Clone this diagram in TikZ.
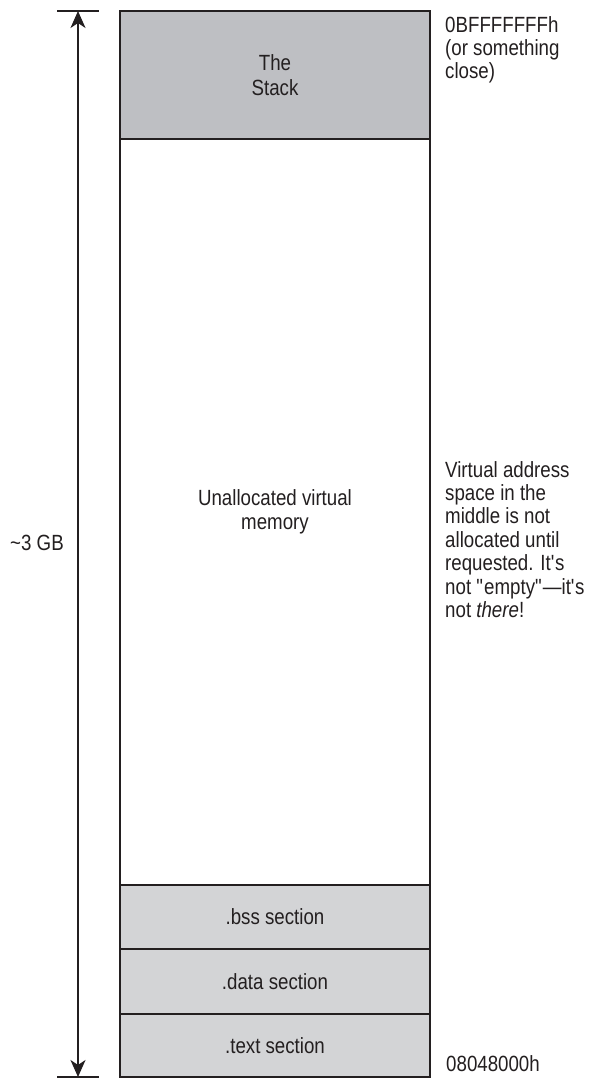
\documentclass[tikz,border=0pt]{standalone}
\usepackage{fontspec}
\setmainfont[FakeStretch=0.85]{Liberation Sans}
\usetikzlibrary{arrows.meta}
\definecolor{ink}{RGB}{35,31,32}
\definecolor{stackgray}{RGB}{190,191,195}
\definecolor{secgray}{RGB}{211,212,214}
\tikzset{
  lbl/.style={font=\fontsize{22}{23.4}\selectfont, text=ink, inner sep=0pt},
  seg/.style={draw=ink, line width=1.2pt, minimum width=310pt, outer sep=0pt,
              inner sep=0pt, align=center, font=\fontsize{22}{24.5}\selectfont, text=ink},
  note/.style={lbl, align=left, anchor=north west},
  span/.style={draw=ink, line width=2pt, {Stealth[length=17pt,width=15pt,inset=5pt]}-{Stealth[length=17pt,width=15pt,inset=5pt]}},
  endbar/.style={draw=ink, line width=2pt}
}
\begin{document}
\begin{tikzpicture}[x=1pt,y=-1pt]
\useasboundingbox (0,0) rectangle (592,1078);
% memory segments
\node[seg, fill=stackgray, minimum height=128pt] (stack) at (275,75) {The\\Stack};
\node[seg, fill=white, minimum height=746pt] (unalloc) at (275,512) {Unallocated virtual\\memory};
\node[seg, fill=secgray, minimum height=64pt] (bss) at (275,917) {.bss section};
\node[seg, fill=secgray, minimum height=65pt] (data) at (275,981.5) {.data section};
\node[seg, fill=secgray, minimum height=63pt] (text) at (275,1045.5) {.text section};
% size arrow
\coordinate (atop) at (78,11);
\coordinate (abot) at (78,1077);
\draw[endbar] ([xshift=-21pt]atop) -- ([xshift=21pt]atop);
\draw[endbar] ([xshift=-21pt]abot) -- ([xshift=21pt]abot);
\draw[span] (atop) -- (abot);
\node[lbl] (gb) at (37,543) {\textasciitilde 3 GB};
% annotations
\node[note] (hiaddr) at (445,16) {0BFFFFFFFh\\(or something\\close)};
\node[note] (midnote) at (445,461) {Virtual address\\space in the\\middle is not\\allocated until\\requested. It\textquotesingle s\\not \textquotedbl empty\textquotedbl---it\textquotesingle s\\not \textit{there}!};
\node[lbl, anchor=base west] (loaddr) at (446,1071) {08048000h};
\end{tikzpicture}
\end{document}
